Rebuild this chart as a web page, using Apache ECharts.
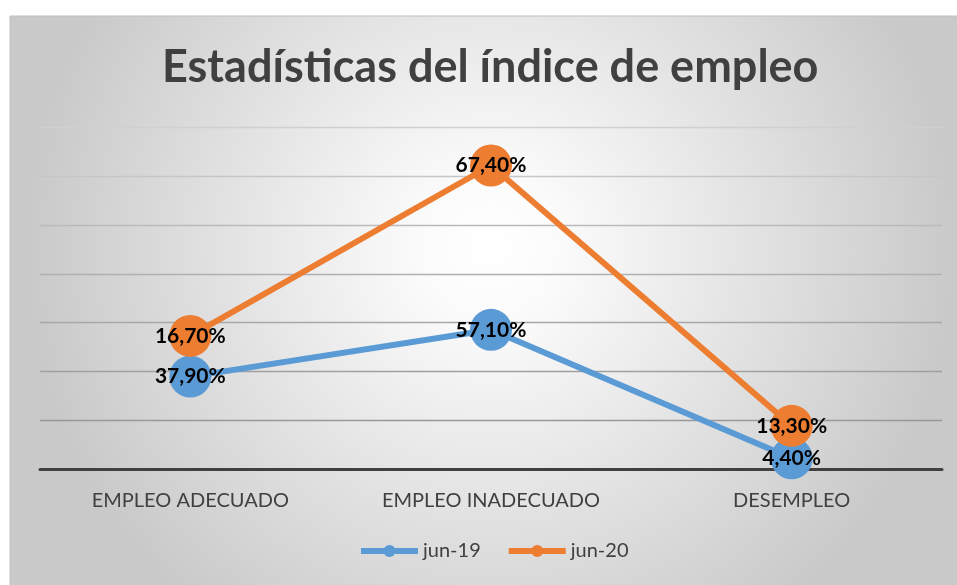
<!DOCTYPE html>
<html>
<head>
<meta charset="utf-8">
<script src="https://cdn.jsdelivr.net/npm/echarts@6/dist/echarts.min.js"></script>
<style>html,body{margin:0;padding:0;background:#fff}#c{width:957px;height:585px}</style>
</head>
<body>
<div id="c"></div>
<script>
const categories = ['EMPLEO ADECUADO', 'EMPLEO INADECUADO', 'DESEMPLEO'];
const jun19 = [37.9, 57.1, 4.4];
const jun20 = [16.7, 67.4, 13.3];
const seriesNames = ['jun-19', 'jun-20'];
const titleText = 'Estadísticas del índice de empleo';

const fmt = p => p.value.toFixed(2).replace('.', ',') + '%';
const chart = echarts.init(document.getElementById('c'));
const labelStyle = {show: true, position: 'inside', formatter: fmt, color: '#000', fontWeight: 'bold', fontSize: 21, fontFamily: 'Lato'};
chart.setOption({
  animation: false,
  graphic: [{
    type: 'rect', z: -100, silent: true,
    shape: {x: 10, y: 16, width: 960, height: 580},
    style: {
      fill: new echarts.graphic.RadialGradient(0.5, 0.4, 0.8, [
        {offset: 0, color: '#ffffff'}, {offset: 0.15, color: '#fbfbfb'}, {offset: 1, color: '#c9c9c9'}
      ]),
      stroke: '#c0c0c0', lineWidth: 1
    }
  }],
  title: {
    text: titleText, left: 157, top: 40,
    textStyle: {fontFamily: 'Lato', fontWeight: 'bold', fontSize: 45, color: '#404040'}
  },
  legend: {
    data: seriesNames, bottom: 19, left: 353,
    itemWidth: 57, itemHeight: 15, itemGap: 25,
    lineStyle: {width: 6},
    textStyle: {fontFamily: 'Lato', fontSize: 20, color: '#404040'}
  },
  grid: {left: 40, right: 15, top: 127.7, bottom: 116},
  xAxis: {
    type: 'category', data: categories, boundaryGap: true,
    axisLine: {lineStyle: {color: '#404040', width: 3}},
    axisTick: {show: false},
    axisLabel: {margin: 22, fontFamily: 'Lato', fontSize: 20, color: '#404040'}
  },
  yAxis: {
    type: 'value', min: 0, max: 140, interval: 20,
    axisLabel: {show: false}, axisLine: {show: false}, axisTick: {show: false},
    splitLine: {lineStyle: {width: 1.3, color: ['#404040', '#999999', '#a0a0a0', '#a8a8a8', '#b0b0b0', '#bababa', '#c6c6c6', '#d0d0d0']}}
  },
  series: [
    {name: seriesNames[0], type: 'line', stack: 'total', data: jun19,
     symbol: 'circle', symbolSize: 42, color: '#5B9BD5',
     lineStyle: {width: 6, color: '#5B9BD5'}, label: labelStyle},
    {name: seriesNames[1], type: 'line', stack: 'total', data: jun20,
     symbol: 'circle', symbolSize: 42, color: '#ED7D31',
     lineStyle: {width: 6, color: '#ED7D31'}, label: labelStyle}
  ]
});
</script>
</body>
</html>
